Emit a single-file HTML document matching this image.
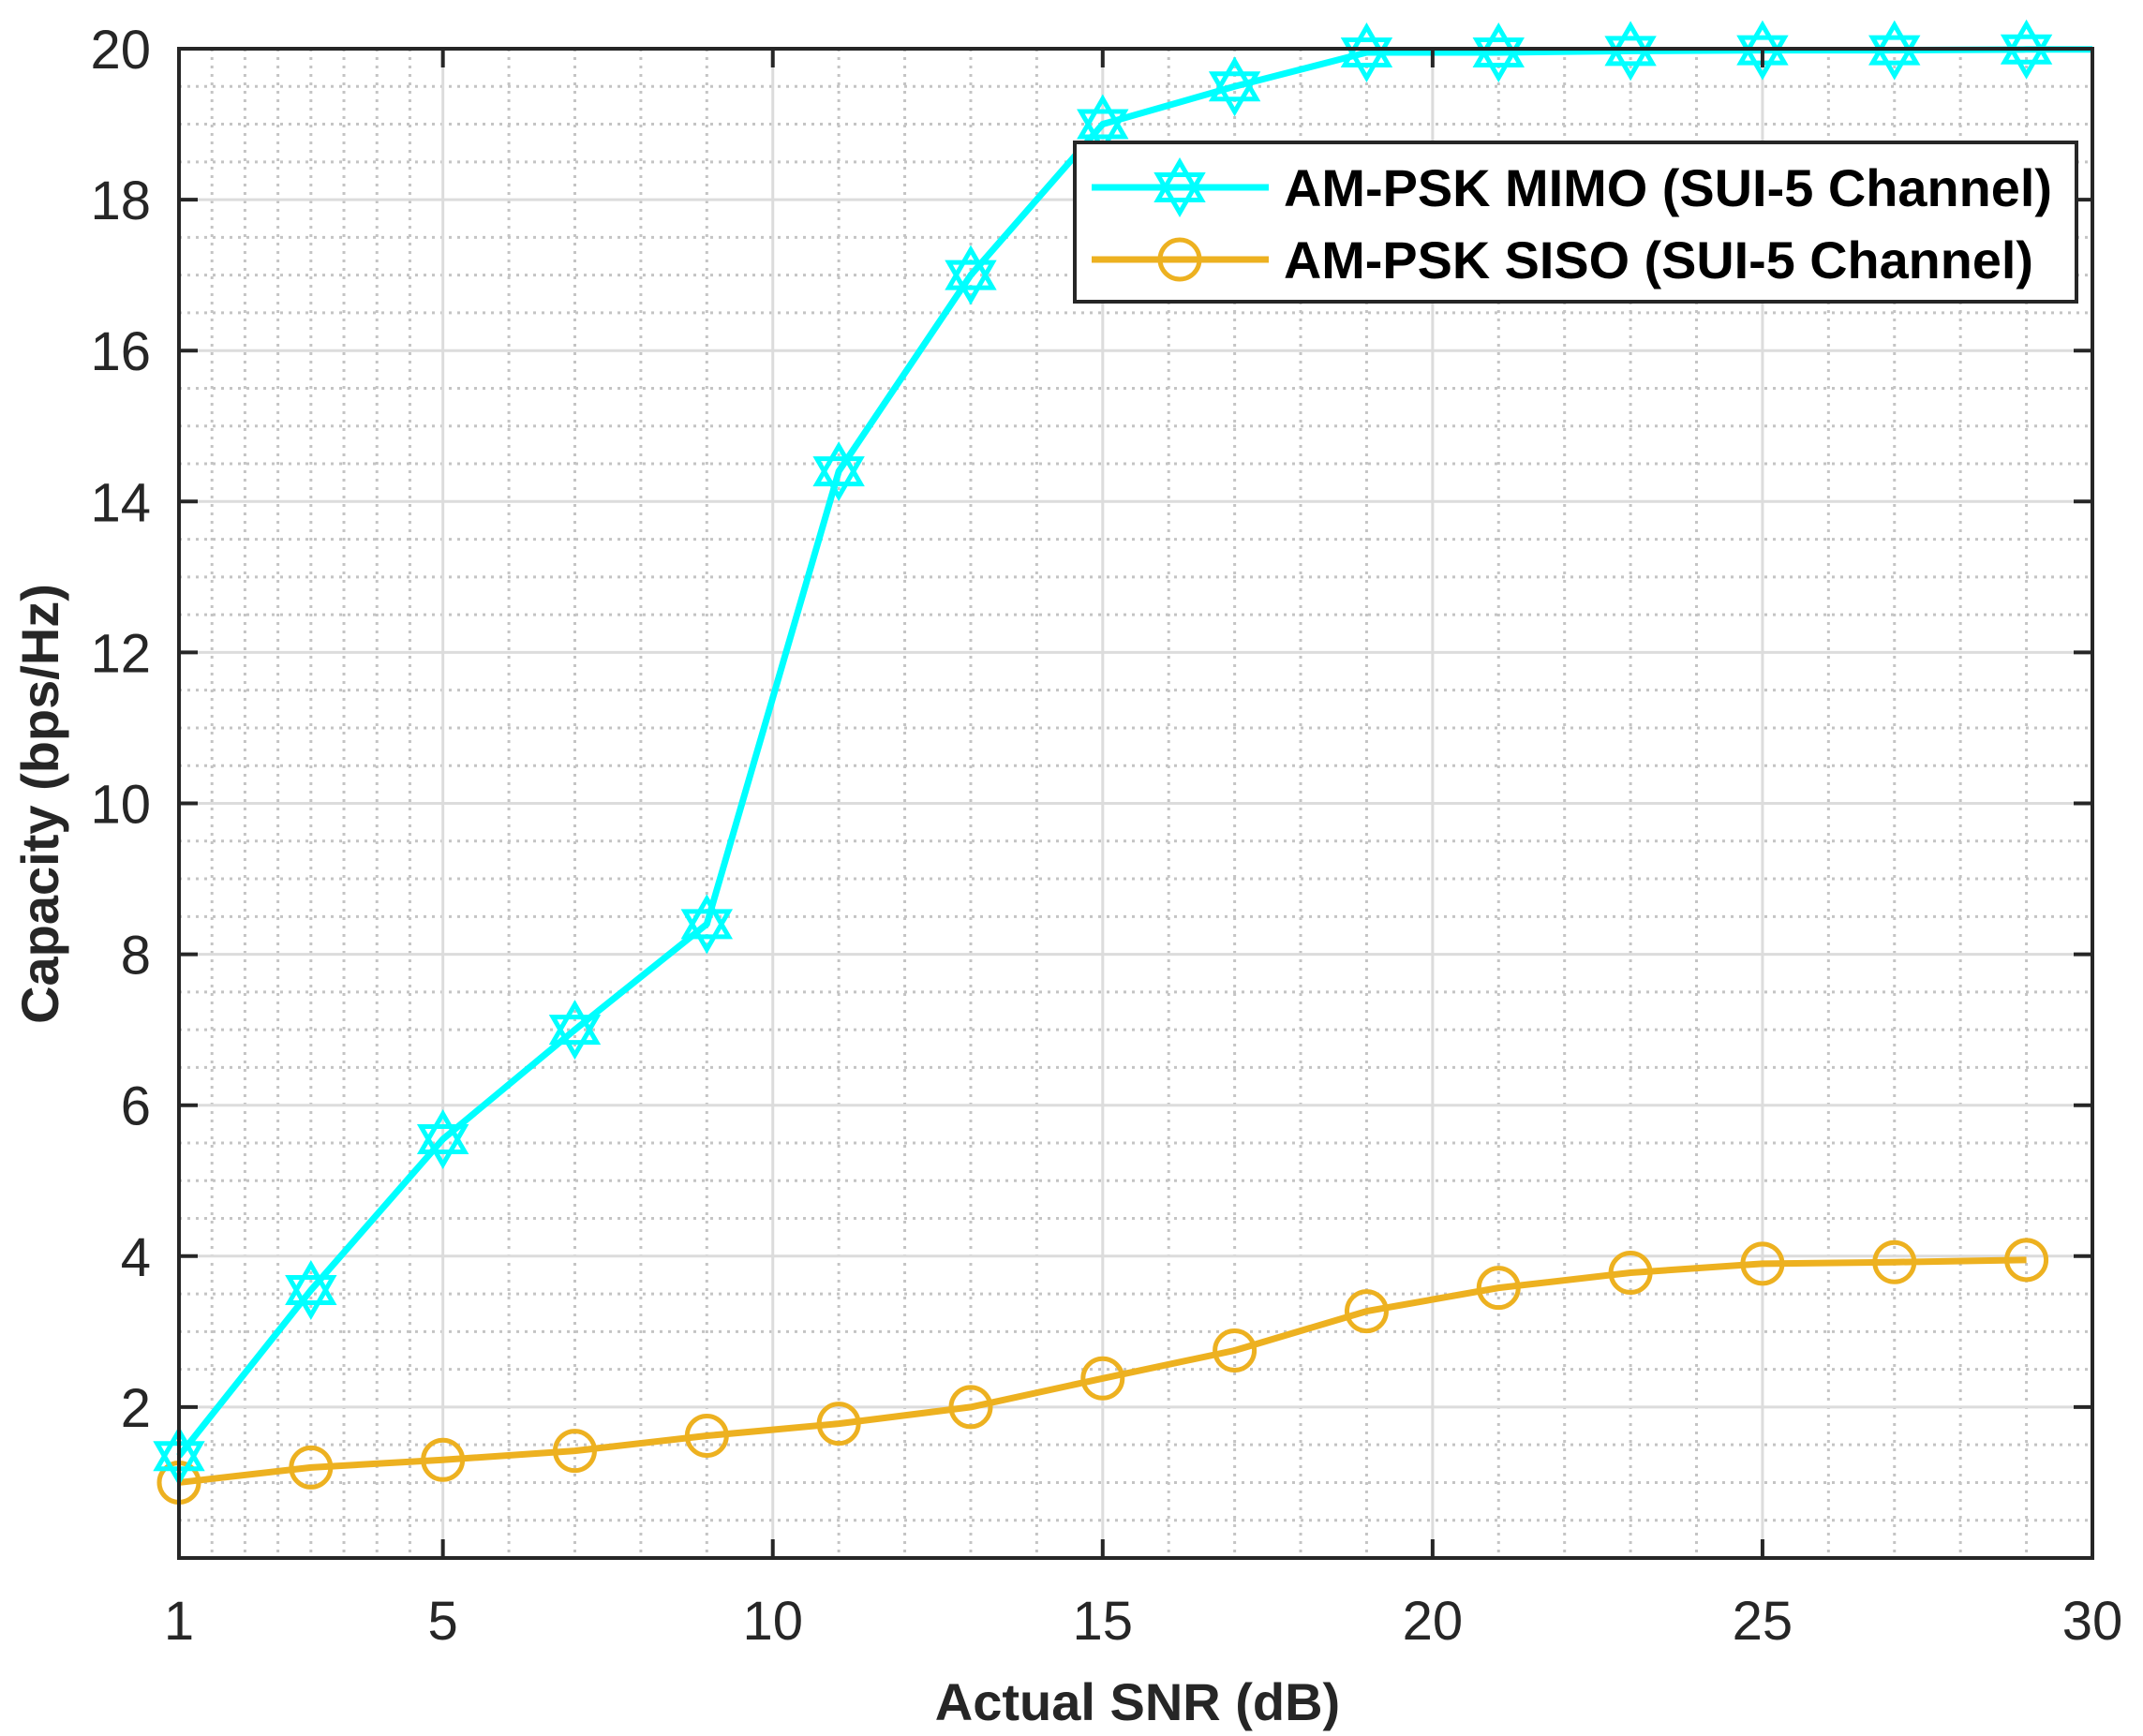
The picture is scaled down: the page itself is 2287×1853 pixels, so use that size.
<!DOCTYPE html>
<html><head><meta charset="utf-8"><style>
html,body{margin:0;padding:0;background:#fff;}
svg{display:block;font-family:"Liberation Sans",Arial,sans-serif;}
</style></head><body>
<svg id="chart" width="2287" height="1853" viewBox="0 0 2287 1853">
<rect width="2287" height="1853" fill="#fff"/>
<g id="grid"></g>
<g id="series"></g>
<g id="axes"></g>
<text x="1214" y="1836" text-anchor="middle" font-size="56" font-weight="bold" fill="#262626">Actual SNR (dB)</text>
<text transform="translate(62,858) rotate(-90)" text-anchor="middle" font-size="56" font-weight="bold" fill="#262626">Capacity (bps/Hz)</text>
<g id="legend">
<rect x="1147" y="152" width="1069" height="170" fill="#fff" stroke="#262626" stroke-width="4"/>
<line x1="1165" y1="200" x2="1354" y2="200" stroke="#00FFFF" stroke-width="7"/>
<line x1="1165" y1="277" x2="1354" y2="277" stroke="#EDB120" stroke-width="7"/>
<text x="1370" y="220" font-size="56" font-weight="bold" fill="#000" textLength="820" lengthAdjust="spacingAndGlyphs">AM-PSK MIMO (SUI-5 Channel)</text>
<text x="1370" y="297" font-size="56" font-weight="bold" fill="#000" textLength="800" lengthAdjust="spacingAndGlyphs">AM-PSK SISO (SUI-5 Channel)</text>
</g>
</svg>
<script>
const snrX = [1,3,5,7,9,11,13,15,17,19,21,23,25,27,29];
const mimoVals = [1.35,3.55,5.55,7.0,8.4,14.4,17.0,19.0,19.5,19.95,19.95,19.97,19.98,19.98,19.99];
const sisoVals = [1.0,1.2,1.3,1.42,1.62,1.78,2.0,2.38,2.75,3.27,3.58,3.78,3.9,3.92,3.95];
const xTicks = [1,5,10,15,20,25,30];
const yTicks = [2,4,6,8,10,12,14,16,18,20];

const L=191,R=2233,T=52,B=1663;
const xMin=1,xMax=30,yMin=0,yMax=20;
const sx=v=>L+(v-xMin)/(xMax-xMin)*(R-L);
const sy=v=>B-(v-yMin)/(yMax-yMin)*(B-T);
const NS='http://www.w3.org/2000/svg';
function mk(tag,attrs,parent){const e=document.createElementNS(NS,tag);for(const k in attrs)e.setAttribute(k,attrs[k]);parent.appendChild(e);return e;}
const grid=document.getElementById('grid'),ser=document.getElementById('series'),axes=document.getElementById('axes');

const xMinor=[];for(let v=1.5;v<5;v+=0.5)xMinor.push(v);for(let v=6;v<30;v++)if(v%5)xMinor.push(v);
xMinor.forEach(v=>{const l=mk('line',{x1:sx(v),x2:sx(v),y1:T,y2:B,stroke:'#c4c4c4','stroke-width':3,'stroke-dasharray':'3 6'},grid);

});
for(let v=0.5;v<20;v+=0.5){if(Number.isInteger(v/2))continue;const l=mk('line',{x1:L,x2:R,y1:sy(v),y2:sy(v),stroke:'#c4c4c4','stroke-width':3,'stroke-dasharray':'3 6'},grid);

}
xTicks.forEach(v=>{const l=mk('line',{x1:sx(v),x2:sx(v),y1:T,y2:B,stroke:'#dcdcdc','stroke-width':3},grid);

});
yTicks.forEach(v=>{const l=mk('line',{x1:L,x2:R,y1:sy(v),y2:sy(v),stroke:'#dcdcdc','stroke-width':3},grid);

});

const box=mk('rect',{x:L,y:T,width:R-L,height:B-T,fill:'none',stroke:'#262626','stroke-width':4},axes);


xTicks.forEach(v=>{
 const t1=mk('line',{x1:sx(v),x2:sx(v),y1:B,y2:B-20,stroke:'#262626','stroke-width':4},axes);
 
 
 const t2=mk('line',{x1:sx(v),x2:sx(v),y1:T,y2:T+20,stroke:'#262626','stroke-width':4},axes);
 
 
 const tx=mk('text',{x:sx(v),y:1750,'text-anchor':'middle','font-size':58,fill:'#262626'},axes);tx.textContent=v;
 
 
});
yTicks.forEach(v=>{
 const t1=mk('line',{x1:L,x2:L+20,y1:sy(v),y2:sy(v),stroke:'#262626','stroke-width':4},axes);
 
 
 const t2=mk('line',{x1:R,x2:R-20,y1:sy(v),y2:sy(v),stroke:'#262626','stroke-width':4},axes);
 
 
 const tx=mk('text',{x:161,y:sy(v)+21,'text-anchor':'end','font-size':58,fill:'#262626'},axes);tx.textContent=v;
 
 
});

function hexagram(cx,cy,r,color,parent){
 const up=[0,1,2].map(i=>{const a=-Math.PI/2+i*2*Math.PI/3;return (cx+r*Math.cos(a))+','+(cy+r*Math.sin(a));}).join(' ');
 const dn=[0,1,2].map(i=>{const a=Math.PI/2+i*2*Math.PI/3;return (cx+r*Math.cos(a))+','+(cy+r*Math.sin(a));}).join(' ');
 const g=mk('g',{},parent);
 mk('polygon',{points:up,fill:'none',stroke:color,'stroke-width':5},g);
 mk('polygon',{points:dn,fill:'none',stroke:color,'stroke-width':5},g);
 return g;
}

const mimoPts=snrX.map((x,i)=>sx(x)+','+sy(mimoVals[i]));mimoPts.push(sx(xMax)+','+sy(mimoVals[mimoVals.length-1]));
const ml=mk('polyline',{points:mimoPts.join(' '),fill:'none',stroke:'#00FFFF','stroke-width':7,'stroke-linejoin':'round'},ser);


const sl=mk('polyline',{points:snrX.map((x,i)=>sx(x)+','+sy(sisoVals[i])).join(' '),fill:'none',stroke:'#EDB120','stroke-width':7,'stroke-linejoin':'round'},ser);


snrX.forEach((x,i)=>{
 const c=mk('circle',{cx:sx(x),cy:sy(sisoVals[i]),r:21,fill:'none',stroke:'#EDB120','stroke-width':5},ser);
 
 
});
snrX.forEach((x,i)=>{
 const g=hexagram(sx(x),sy(mimoVals[i]),27,'#00FFFF',ser);
 
 
});
const lg=hexagram(1259,200,27,'#00FFFF',document.getElementById('legend'));


const lc=mk('circle',{cx:1259,cy:277,r:21,fill:'none',stroke:'#EDB120','stroke-width':5},document.getElementById('legend'));


</script>
</body></html>
